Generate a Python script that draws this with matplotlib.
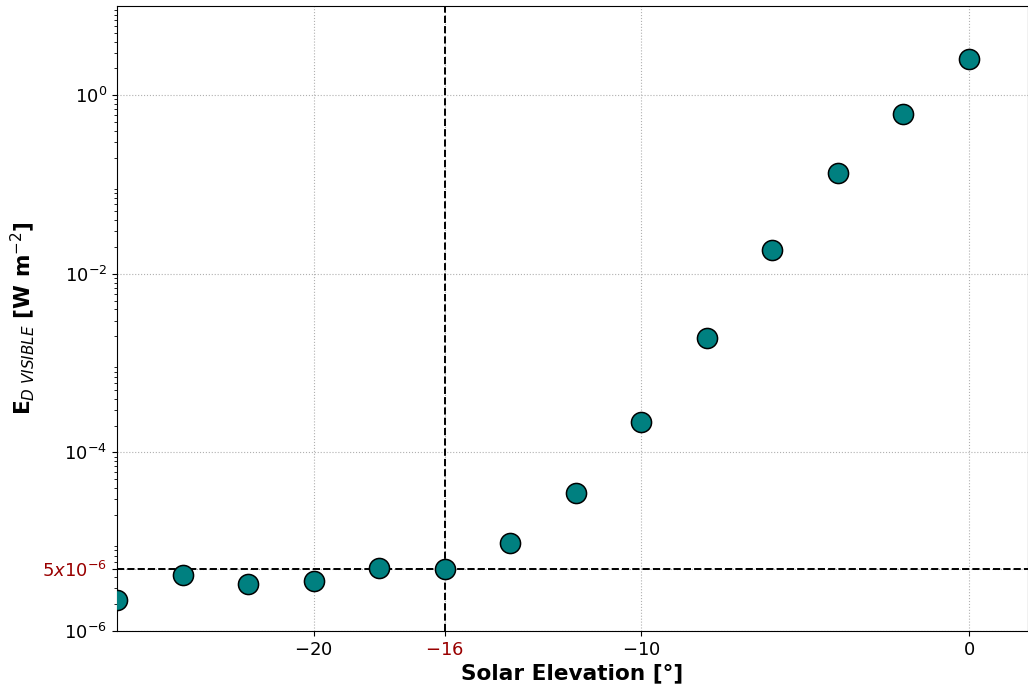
import numpy as np
import matplotlib
matplotlib.use('Agg')
import matplotlib.pyplot as plt
from matplotlib.ticker import LogLocator, NullFormatter

# solar elevation [deg] and visible downwelling irradiance [W m-2]
elevation = [-26, -24, -22, -20, -18, -16, -14, -12, -10, -8, -6, -4, -2, 0]
irradiance = [2.2e-6, 4.2e-6, 3.4e-6, 3.6e-6, 5.1e-6, 4.9e-6, 9.7e-6, 3.5e-5,
              2.2e-4, 1.9e-3, 1.85e-2, 0.135, 0.62, 2.55]

threshold_elev = -16
threshold_irr = 5e-6

xticks = [-20, -16, -10, 0]
xticklabels = ['$-20$', '$-16$', '$-10$', '$0$']
yticks = [1e-6, 5e-6, 1e-4, 1e-2, 1e0]
yticklabels = ['$10^{-6}$', '$5x10^{-6}$', '$10^{-4}$', '$10^{-2}$', '$10^{0}$']

fig = plt.figure(figsize=(10.28, 6.86), dpi=100)
ax = fig.add_axes([117/1028, 1 - 631/686, 911/1028, 625/686])

ax.scatter(elevation, irradiance, s=210, c='teal', edgecolors='black',
           linewidths=1.1, zorder=3)
ax.axvline(threshold_elev, color='black', ls='--', lw=1.4, zorder=2)
ax.axhline(threshold_irr, color='black', ls='--', lw=1.4, zorder=2)

ax.set_yscale('log')
ax.set_xlim(-26, 1.8)
ax.set_ylim(1e-6, 1e1)

ax.set_xticks(xticks)
ax.set_xticklabels(xticklabels)
ax.set_yticks(yticks)
ax.set_yticklabels(yticklabels)
ax.yaxis.set_minor_locator(LogLocator(base=10, subs=np.arange(2, 10), numticks=20))
ax.yaxis.set_minor_formatter(NullFormatter())
ax.tick_params(axis='both', which='major', labelsize=13)

ax.get_xticklabels()[1].set_color('#990000')
ax.get_yticklabels()[1].set_color('#990000')

ax.grid(True, which='major', ls=':', color='#b0b0b0', lw=0.8)

ax.set_xlabel('Solar Elevation [°]', fontsize=15.6, fontweight='bold', labelpad=3)
ax.set_ylabel(r'E$_{D\ VISIBLE}$ [W m$^{-2}$]', fontsize=15.6, fontweight='bold')

plt.savefig('out.png', dpi=100)
